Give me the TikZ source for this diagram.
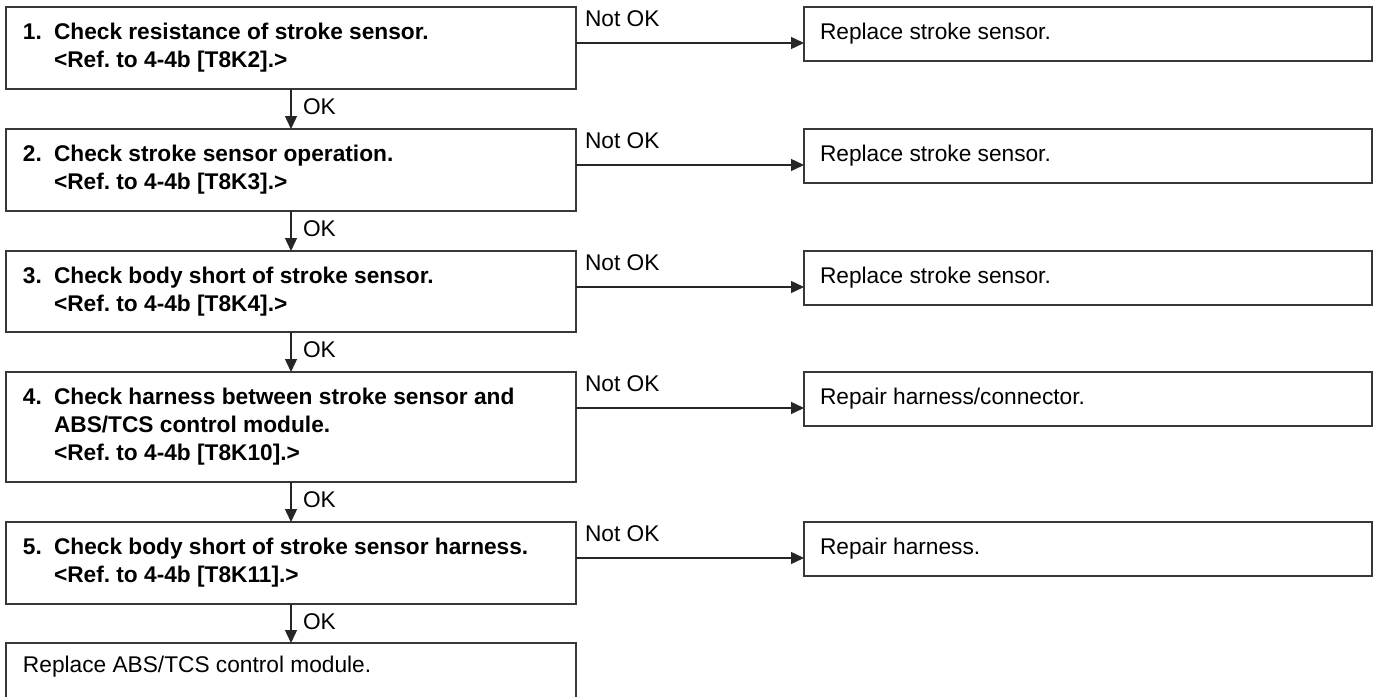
\documentclass[tikz,border=0pt]{standalone}
\usepackage{fontspec}
\setmainfont{Liberation Sans}
\frenchspacing
\usetikzlibrary{arrows.meta,calc}
\tikzset{
  lbox/.style={draw=black!78, line width=1.7pt, rectangle, anchor=north west, inner sep=0pt, outer sep=0pt, minimum width=570pt},
  rbox/.style={draw=black!78, line width=1.7pt, rectangle, anchor=north west, inner sep=0pt, outer sep=0pt, minimum width=568pt, minimum height=54pt},
  txt/.style={anchor=base west, inner sep=0pt, outer sep=0pt, font=\fontsize{22.7}{29}\selectfont\frenchspacing},
  btxt/.style={txt, font=\fontsize{22.7}{29}\selectfont\bfseries\frenchspacing},
  arr/.style={draw=black!85, line width=1.4pt, -{Triangle[length=13pt,width=12pt]}},
}
\begin{document}
\begin{tikzpicture}[x=1pt,y=-1pt]
\useasboundingbox (0,0) rectangle (1373,696);
\clip (0,0) rectangle (1373,696);
% left boxes
\node[lbox, minimum height=82pt] (b1) at (6,7) {};
\node[lbox, minimum height=82pt] (b2) at (6,129) {};
\node[lbox, minimum height=81pt] (b3) at (6,251) {};
\node[lbox, minimum height=110pt] (b4) at (6,372) {};
\node[lbox, minimum height=82pt] (b5) at (6,522) {};
\node[lbox, minimum height=56pt] (b6) at (6,643) {};
% right boxes
\node[rbox] (r1) at (804,7) {};
\node[rbox] (r2) at (804,129) {};
\node[rbox] (r3) at (804,251) {};
\node[rbox] (r4) at (804,372) {};
\node[rbox] (r5) at (804,522) {};
% left box texts
\node[btxt] (n1) at ($(b1.north west)+(17,32)$) {1.};
\node[btxt] (t1a) at ($(b1.north west)+(48,32)$) {Check resistance of stroke sensor.};
\node[btxt] (t1b) at ($(b1.north west)+(48,60)$) {<Ref. to 4-4b [T8K2].>};
\node[btxt] (n2) at ($(b2.north west)+(17,32)$) {2.};
\node[btxt] (t2a) at ($(b2.north west)+(48,32)$) {Check stroke sensor operation.};
\node[btxt] (t2b) at ($(b2.north west)+(48,60)$) {<Ref. to 4-4b [T8K3].>};
\node[btxt] (n3) at ($(b3.north west)+(17,32)$) {3.};
\node[btxt] (t3a) at ($(b3.north west)+(48,32)$) {Check body short of stroke sensor.};
\node[btxt] (t3b) at ($(b3.north west)+(48,60)$) {<Ref. to 4-4b [T8K4].>};
\node[btxt] (n4) at ($(b4.north west)+(17,32)$) {4.};
\node[btxt] (t4a) at ($(b4.north west)+(48,32)$) {Check harness between stroke sensor and};
\node[btxt] (t4b) at ($(b4.north west)+(48,60)$) {ABS/TCS control module.};
\node[btxt] (t4c) at ($(b4.north west)+(48,88)$) {<Ref. to 4-4b [T8K10].>};
\node[btxt] (n5) at ($(b5.north west)+(17,32)$) {5.};
\node[btxt] (t5a) at ($(b5.north west)+(48,32)$) {Check body short of stroke sensor harness.};
\node[btxt] (t5b) at ($(b5.north west)+(48,60)$) {<Ref. to 4-4b [T8K11].>};
\node[txt] (t6) at ($(b6.north west)+(17,29)$) {Replace ABS/TCS control module.};
% right box texts
\node[txt] (s1) at ($(r1.north west)+(16,32)$) {Replace stroke sensor.};
\node[txt] (s2) at ($(r2.north west)+(16,32)$) {Replace stroke sensor.};
\node[txt] (s3) at ($(r3.north west)+(16,32)$) {Replace stroke sensor.};
\node[txt] (s4) at ($(r4.north west)+(16,32)$) {Repair harness/connector.};
\node[txt] (s5) at ($(r5.north west)+(16,32)$) {Repair harness.};
% OK arrows
\foreach \a/\b in {b1/b2,b2/b3,b3/b4,b4/b5,b5/b6}{
  \draw[arr] (\a.south) -- (\b.north);
  \node[txt] at ($(\a.south)+(12,25)$) {OK};
}
% Not OK arrows
\foreach \a/\b in {b1/r1,b2/r2,b3/r3,b4/r4,b5/r5}{
  \draw[arr] ($(\a.north east)+(0,36)$) -- ($(\b.north west)+(0,36)$);
  \node[txt] at ($(\a.north east)+(9,19)$) {Not OK};
}
\end{tikzpicture}
\end{document}
